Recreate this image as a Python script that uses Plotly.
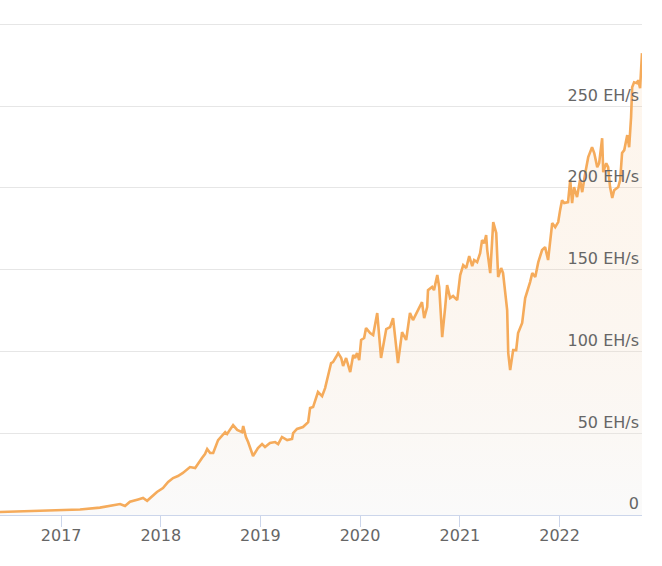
import plotly.graph_objects as go

# Bitcoin network hashrate, EH/s
dates = [
    "2016-05-22", "2016-09-09", "2017-01-01", "2017-03-11", "2017-05-23", "2017-07-17",
    "2017-08-05", "2017-08-23", "2017-09-10", "2017-10-10", "2017-10-28", "2017-11-12",
    "2017-11-30", "2017-12-18", "2018-01-09", "2018-01-28", "2018-02-15", "2018-03-05",
    "2018-03-23", "2018-04-07", "2018-04-18", "2018-05-07", "2018-05-21", "2018-06-01",
    "2018-06-12", "2018-06-20", "2018-07-01", "2018-07-12", "2018-07-30", "2018-08-14",
    "2018-08-25", "2018-09-01", "2018-09-12", "2018-09-23", "2018-10-08", "2018-10-26",
    "2018-10-30", "2018-11-09", "2018-11-17", "2018-11-24", "2018-12-05", "2018-12-23",
    "2019-01-07", "2019-01-18", "2019-02-05", "2019-02-24", "2019-03-07", "2019-03-21",
    "2019-04-09", "2019-04-27", "2019-05-01", "2019-05-15", "2019-05-26", "2019-06-06",
    "2019-06-25", "2019-07-02", "2019-07-13", "2019-07-31", "2019-08-15", "2019-08-26",
    "2019-09-17", "2019-09-24", "2019-10-05", "2019-10-13", "2019-10-24", "2019-10-31",
    "2019-11-11", "2019-11-26", "2019-12-07", "2019-12-14", "2019-12-21", "2019-12-29",
    "2020-01-05", "2020-01-16", "2020-01-23", "2020-02-07", "2020-02-18", "2020-03-04",
    "2020-03-18", "2020-04-06", "2020-04-20", "2020-05-01", "2020-05-19", "2020-06-03",
    "2020-06-18", "2020-07-02", "2020-07-13", "2020-07-28", "2020-08-08", "2020-08-15",
    "2020-08-23", "2020-09-03", "2020-09-06", "2020-09-21", "2020-09-28", "2020-10-10",
    "2020-10-17", "2020-10-28", "2020-11-08", "2020-11-15", "2020-11-26", "2020-12-07",
    "2020-12-22", "2021-01-02", "2021-01-13", "2021-01-24", "2021-02-04", "2021-02-15",
    "2021-02-22", "2021-03-05", "2021-03-16", "2021-03-23", "2021-03-31", "2021-04-07",
    "2021-04-11", "2021-04-22", "2021-05-03", "2021-05-14", "2021-05-21", "2021-06-01",
    "2021-06-08", "2021-06-23", "2021-06-27", "2021-07-04", "2021-07-15", "2021-07-26",
    "2021-08-02", "2021-08-17", "2021-08-28", "2021-09-04", "2021-09-15", "2021-09-23",
    "2021-10-04", "2021-10-15", "2021-10-29", "2021-11-09", "2021-11-20", "2021-12-01",
    "2021-12-05", "2021-12-16", "2021-12-27", "2022-01-03", "2022-01-10", "2022-01-18",
    "2022-02-01", "2022-02-09", "2022-02-16", "2022-02-23", "2022-03-06", "2022-03-17",
    "2022-03-25", "2022-04-05", "2022-04-16", "2022-04-30", "2022-05-08", "2022-05-19",
    "2022-05-26", "2022-06-06", "2022-06-10", "2022-06-21", "2022-06-28", "2022-07-05",
    "2022-07-13", "2022-07-20", "2022-08-04", "2022-08-11", "2022-08-18", "2022-08-26",
    "2022-09-06", "2022-09-13", "2022-09-20", "2022-09-24", "2022-10-01", "2022-10-12",
    "2022-10-16", "2022-10-23", "2022-10-27", "2022-10-30",
]
hashrate = [
    1.8, 2.3, 2.8, 3.4, 4.5, 5.8,
    6.7, 5.5, 8.1, 9.5, 10.4, 8.7,
    11.6, 14.1, 16.5, 20.2, 22.6, 23.8,
    25.7, 27.5, 29.3, 28.7, 32.4, 34.8,
    37.3, 40.3, 37.9, 37.9, 45.8, 48.3,
    50.7, 49.5, 52.0, 55.0, 52.0, 50.7,
    54.4, 47.7, 44.6, 41.0, 36.1, 41.0,
    43.4, 41.6, 44.0, 44.6, 43.4, 47.7,
    45.8, 46.5, 50.1, 52.6, 53.2, 53.8,
    56.8, 65.4, 66.0, 75.2, 72.7, 77.6,
    92.9, 93.5, 96.6, 99.0, 96.0, 91.1,
    96.0, 87.4, 97.8, 96.0, 99.0, 94.7,
    107.0, 108.2, 114.3, 111.2, 110.0, 123.5,
    96.0, 113.7, 114.9, 120.4, 92.9, 111.8,
    107.0, 123.5, 119.2, 124.1, 127.7, 130.2,
    120.4, 127.1, 137.5, 139.4, 137.5, 146.7,
    139.4, 108.8, 127.1, 140.6, 132.6, 133.9,
    131.4, 146.7, 152.8, 151.0, 158.3, 152.2,
    155.9, 154.6, 160.1, 168.1, 166.2, 171.1,
    162.0, 147.9, 179.1, 172.4, 145.5, 151.0,
    147.9, 125.3, 99.0, 88.6, 100.8, 100.8,
    111.2, 117.4, 132.6, 136.3, 142.4, 147.9,
    145.5, 154.6, 162.0, 163.8, 155.9, 172.4,
    178.5, 176.0, 179.1, 186.4, 192.5, 190.7,
    191.3, 204.8, 190.7, 200.5, 194.4, 204.8,
    197.4, 209.0, 218.8, 224.9, 221.3, 212.7,
    215.1, 230.4, 209.6, 215.1, 212.7, 200.5,
    193.8, 198.6, 200.5, 204.8, 221.3, 223.1,
    232.3, 224.9, 243.3, 261.6, 264.6, 264.0,
    265.9, 261.0, 270.2, 282.4,
]

y_ticks = [0, 50, 100, 150, 200, 250, 300]
y_labels = ["0", "50 EH/s", "100 EH/s", "150 EH/s", "200 EH/s", "250 EH/s", ""]
x_ticks = ["2017-01-01", "2018-01-01", "2019-01-01", "2020-01-01", "2021-01-01", "2022-01-01"]
x_labels = ["2017", "2018", "2019", "2020", "2021", "2022"]

fig = go.Figure()
fig.add_trace(go.Scatter(
    x=dates,
    y=hashrate,
    mode="lines",
    line=dict(color="#f5ab5b", width=2.6),
    fill="tozeroy",
    fillgradient=dict(
        type="vertical",
        colorscale=[[0, "rgba(235,235,235,0.25)"], [1, "rgba(245,171,91,0.1)"]],
    ),
    hoverinfo="skip",
))

fig.update_layout(
    width=662,
    height=566,
    margin=dict(l=0, r=20, t=8, b=51),
    paper_bgcolor="white",
    plot_bgcolor="white",
    showlegend=False,
    font=dict(family="DejaVu Sans", size=16, color="#666666"),
)
fig.update_xaxes(
    type="date",
    range=["2016-05-22", "2022-10-30"],
    tickvals=x_ticks,
    ticktext=x_labels,
    showgrid=False,
    showline=True,
    linecolor="#ccd6eb",
    linewidth=1,
    ticks="outside",
    ticklen=11,
    tickcolor="#ccd6eb",
    ticklabelstandoff=-5,
    tickfont=dict(size=16, color="#666666"),
    zeroline=False,
)
fig.update_yaxes(
    range=[0, 310],
    tickvals=y_ticks,
    ticktext=y_labels,
    side="right",
    ticklabelposition="inside top",
    showgrid=True,
    gridcolor="#e6e6e6",
    gridwidth=1,
    zeroline=False,
    showline=False,
    tickfont=dict(size=16, color="#666666"),
)

# the page body has an 8px default margin; drop it so the chart sits at the window edge
fig.write_html(
    "out.html",
    config={"displayModeBar": False},
    post_script="document.body.style.margin='0px';",
)
